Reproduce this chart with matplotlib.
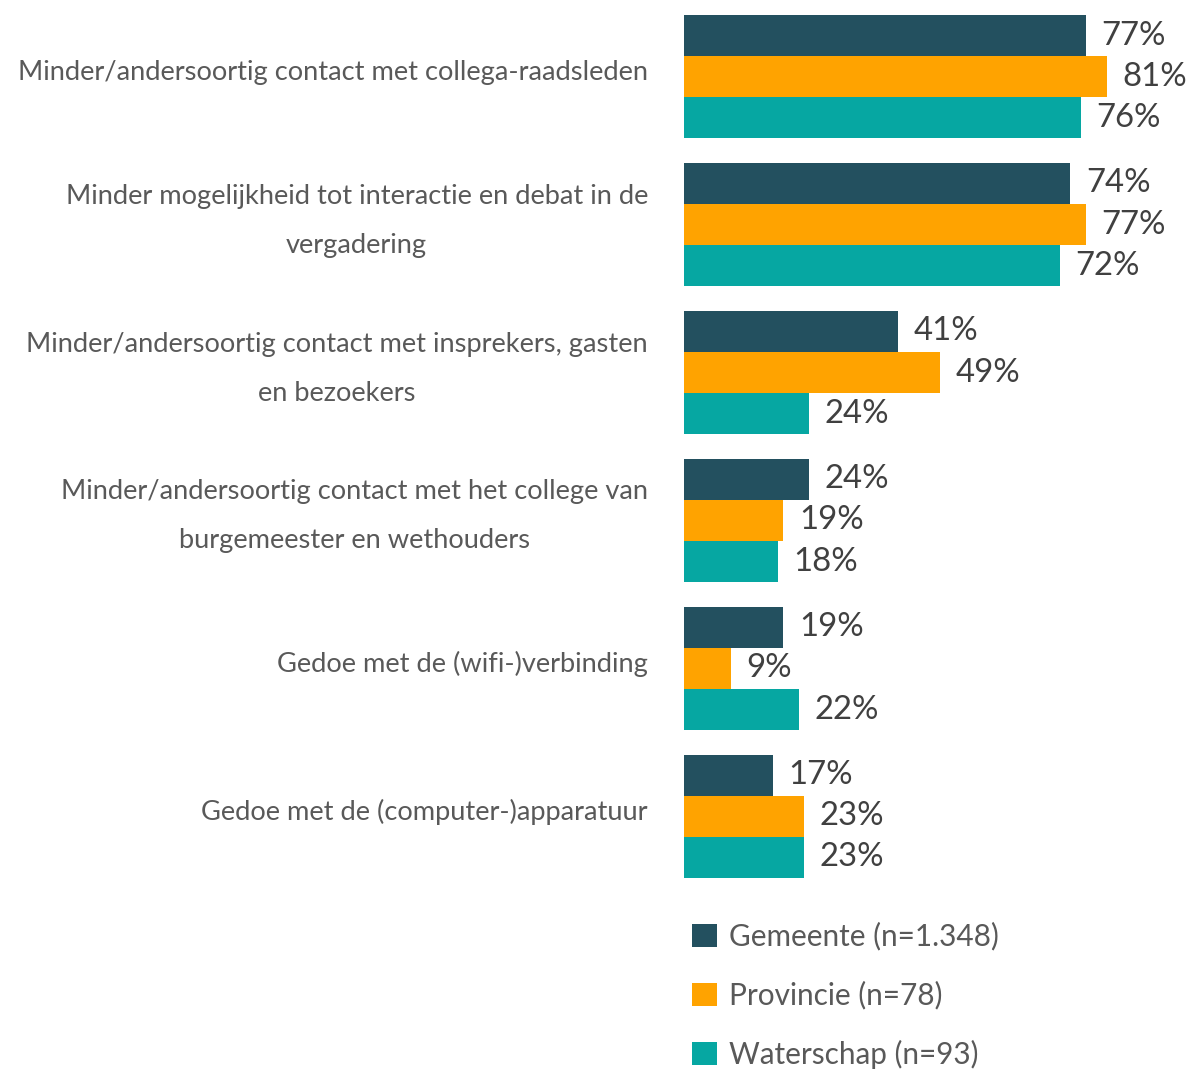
import numpy as np
import matplotlib
import matplotlib.pyplot as plt
from matplotlib.patches import Patch

# data
categories = [
    'Minder/andersoortig contact met collega-raadsleden',
    'Minder mogelijkheid tot interactie en debat in de\nvergadering',
    'Minder/andersoortig contact met insprekers, gasten\nen bezoekers',
    'Minder/andersoortig contact met het college van\nburgemeester en wethouders',
    'Gedoe met de (wifi-)verbinding',
    'Gedoe met de (computer-)apparatuur',
]
gemeente = [77, 74, 41, 24, 19, 17]
provincie = [81, 77, 49, 19, 9, 23]
waterschap = [76, 72, 24, 18, 22, 23]
series_names = ['Gemeente (n=1.348)', 'Provincie (n=78)', 'Waterschap (n=93)']
colors = ['#23505F', '#FFA300', '#06A7A2']

label_font = ['Lato', 'DejaVu Sans']
value_font = ['Lato', 'DejaVu Sans']

fig = plt.figure(figsize=(11.91, 10.71), dpi=100)
W, H = 1191, 1071
# axes spans the bars: x from 684px, y from 15px to 878px
ax = fig.add_axes([684 / W, 1 - 878 / H, (W - 684) / W, (878 - 15) / H])

group_step = 3.6
base = np.arange(len(categories)) * group_step
for j, (vals, col) in enumerate(zip([gemeente, provincie, waterschap], colors)):
    ypos = base + j
    ax.barh(ypos, vals, height=1.0, color=col, label=series_names[j])
    for y, v in zip(ypos, vals):
        ax.text(v + 3.0, y, '%d%%' % v, va='center', ha='left',
                fontsize=23.7, color='#404040', family=value_font)

ax.set_xlim(0, 97.1)
ax.set_ylim(base[-1] + 2.5, -0.5)
ax.set_yticks(base + 1)
ax.set_yticklabels(categories, family=label_font, fontsize=19.6, color='#595959',
                   multialignment='center', linespacing=2.2, va='center')
ax.tick_params(axis='y', length=0, pad=26)
ax.set_xticks([])
for s in ax.spines.values():
    s.set_visible(False)

# labels sit a little above the group centre
offset_y = matplotlib.transforms.ScaledTranslation(0, 4 / 100., fig.dpi_scale_trans)
for label in ax.yaxis.get_majorticklabels():
    label.set_transform(label.get_transform() + offset_y)

handles = [Patch(facecolor=c, edgecolor='none') for c in colors]
leg = fig.legend(handles, series_names, loc='upper left',
                 bbox_to_anchor=(692 / W, 1 - 922 / H),
                 frameon=False, borderpad=0, borderaxespad=0,
                 handlelength=0.83, handleheight=0.83, handletextpad=0.42,
                 labelspacing=1.02, prop={'family': value_font, 'size': 21.4})
for t in leg.get_texts():
    t.set_color('#595959')

fig.savefig('out.png', dpi=100)
